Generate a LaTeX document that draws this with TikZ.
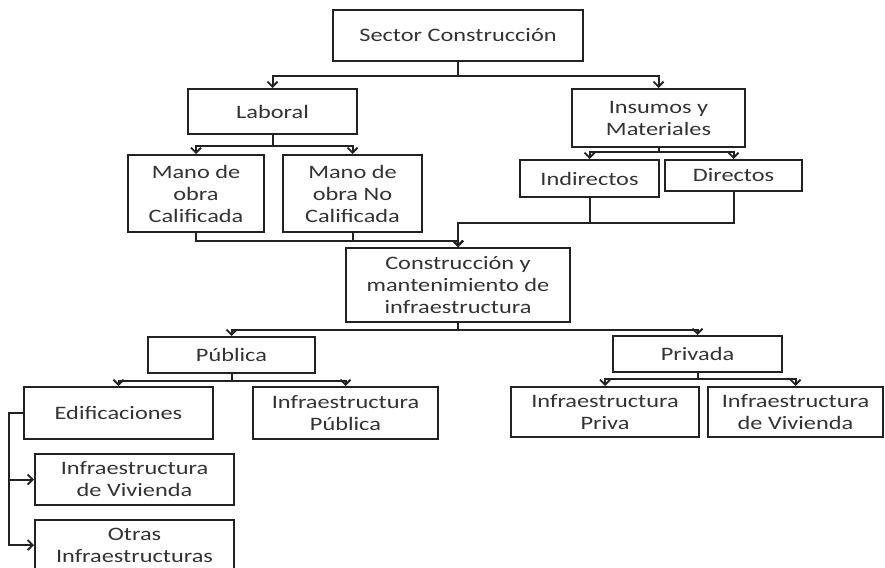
\documentclass[tikz,border=0pt]{standalone}
\usepackage{fontspec}
\setmainfont{Carlito}[FakeStretch=1.28]
\usetikzlibrary{arrows.meta}
\definecolor{ink}{HTML}{222222}
\definecolor{txt}{HTML}{333333}
\tikzset{
  box/.style={draw=ink, line width=2pt, rectangle, inner sep=0pt, align=center,
    text=txt, font=\fontsize{19}{22}\selectfont},
  conn/.style={draw=ink, line width=2pt},
  arr/.style={conn, -{Straight Barb[length=5pt,width=10pt,line width=1.8pt]}}
}
\begin{document}
\begin{tikzpicture}[x=1pt,y=-1pt]
\useasboundingbox (0,0) rectangle (885,567);
\fill[white] (0,0) rectangle (885,567);
\clip (0,0) rectangle (885,567);
% nodes
\node[box, minimum width=250, minimum height=51] (sector) at (458,35.5) {Sector Construcción};
\node[box, minimum width=169, minimum height=45] (laboral) at (272.5,111.5) {Laboral};
\node[box, minimum width=136, minimum height=77] (mano1) at (196,193.5) {Mano de\\obra\\Calificada};
\node[box, minimum width=139, minimum height=77] (mano2) at (352.5,193.5) {Mano de\\obra No\\Calificada};
\node[box, minimum width=173, minimum height=58] (insumos) at (658.5,118) {Insumos y\\Materiales};
\node[box, minimum width=139, minimum height=37] (indirectos) at (589.5,178.5) {Indirectos};
\node[box, minimum width=137, minimum height=31] (directos) at (733.5,175.5) {Directos};
\node[box, minimum width=224, minimum height=74] (constr) at (458,285) {Construcción y\\mantenimiento de\\infraestructura};
\node[box, minimum width=167, minimum height=36] (publica) at (231.5,355) {Pública};
\node[box, minimum width=169, minimum height=36] (privada) at (697.5,354) {Privada};
\node[box, minimum width=189, minimum height=52] (edif) at (118.5,413) {Edificaciones};
\node[box, minimum width=185, minimum height=52] (infpub) at (345.5,413) {Infraestructura\\Pública};
\node[box, minimum width=199, minimum height=51] (infviv1) at (134.5,479.5) {Infraestructura\\de Vivienda};
\node[box, minimum width=199, minimum height=50] (otras) at (134.5,545) {Otras\\Infraestructuras};
\node[box, minimum width=188, minimum height=50] (infpriv) at (605,412) {Infraestructura\\Priva};
\node[box, minimum width=175, minimum height=50] (infviv2) at (795.5,412) {Infraestructura\\de Vivienda};
% connectors
\draw[arr] (sector.south) -- ++(0,14) -| (laboral.north);
\draw[arr] (sector.south) -- ++(0,14) -| (insumos.north);
\draw[arr] (laboral.south) -- ++(0,11) -| (mano1.north);
\draw[arr] (laboral.south) -- ++(0,11) -| (mano2.north);
\draw[arr] (insumos.south) -- ++(0,4) -| (indirectos.north);
\draw[arr] (insumos.south) -- ++(0,4) -| (directos.north);
\draw[arr] (mano1.south) -- ++(0,8) -| (constr.north);
\draw[arr] (mano2.south) -- ++(0,8) -| (constr.north);
\draw[arr] (indirectos.south) -- ++(0,25) -| (constr.north);
\draw[arr] (directos.south) -- ++(0,31) -| (constr.north);
\draw[arr] (constr.south) -- ++(0,7) -| (publica.north);
\draw[arr] (constr.south) -- ++(0,7) -| (privada.north);
\draw[arr] (publica.south) -- ++(0,7) -| (edif.north);
\draw[arr] (publica.south) -- ++(0,7) -| (infpub.north);
\draw[arr] (privada.south) -- ++(0,6) -| (infpriv.north);
\draw[arr] (privada.south) -- ++(0,6) -| (infviv2.north);
\draw[arr] (edif.west) -- ++(-14,0) |- (infviv1.west);
\draw[arr] (edif.west) -- ++(-14,0) |- (otras.west);
\end{tikzpicture}
\end{document}
